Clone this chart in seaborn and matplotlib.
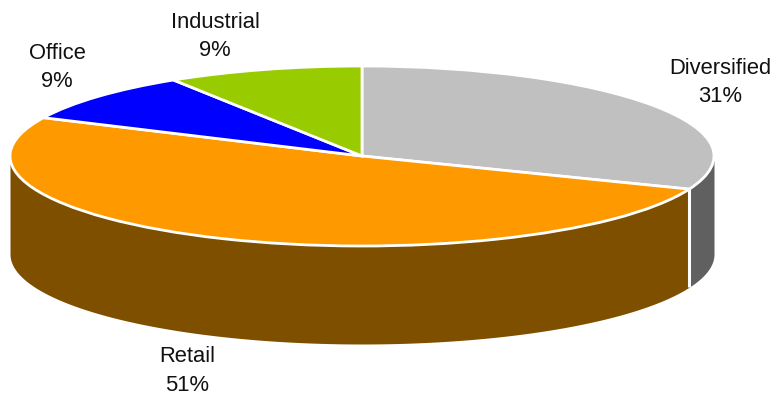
import numpy as np
import matplotlib
matplotlib.use("Agg")
import matplotlib.pyplot as plt
import seaborn as sns

# Portfolio split by property sector, clockwise from twelve o'clock
sectors = ["Diversified", "Retail", "Office", "Industrial"]
shares = [31, 51, 9, 9]
top_colors = ["#C0C0C0", "#FF9900", "#0000FF", "#99CC00"]
wall_colors = ["#606060", "#7F4F00", "#000080", "#4D6600"]

# Label anchors on the pixel-sized canvas
label_x = [720, 187, 57, 215]
label_y = [82.5, 371, 67.5, 36.5]

WIDTH, HEIGHT = 776, 395
CX, CY = 362, 156
RX, RY = 352, 90
DEPTH_PX = 98
SQUASH = RX / RY

sns.set_theme(style="white")
plt.rcParams["font.family"] = ["Liberation Sans", "DejaVu Sans"]

fig = plt.figure(figsize=(WIDTH / 100, HEIGHT / 100), dpi=100)
ax = fig.add_axes([0, 0, 1, 1])

depth = DEPTH_PX * SQUASH

# Side wall of the disc: only the part of each slice facing the viewer
edges = 90 - 3.6 * np.cumsum([0] + shares)
for i, color in enumerate(wall_colors):
    hi, lo = edges[i], edges[i + 1]
    # front half of the rim runs from 0 down to -180 degrees
    hi_c, lo_c = min(hi, 0), max(lo, -180)
    if hi <= -180:
        hi_c, lo_c = min(hi + 360, 0), max(lo + 360, -180)
    if hi_c <= lo_c:
        continue
    t = np.radians(np.linspace(hi_c, lo_c, 200))
    x = RX * np.cos(t)
    y = RX * np.sin(t)
    ax.fill_between(x, y, y - depth, color=color, linewidth=0, zorder=1)
    # white seam where a slice boundary falls on the visible rim
    if -180 < hi < 0:
        ax.plot([x[0], x[0]], [y[0], y[0] - depth], color="white", lw=2.2,
                solid_capstyle="butt", zorder=2)

# Top face: a circular pie stretched into an ellipse by the axis limits
ax.pie(
    shares,
    colors=top_colors,
    startangle=90,
    counterclock=False,
    radius=RX,
    center=(0, 0),
    wedgeprops={"edgecolor": "white", "linewidth": 2.0, "zorder": 3},
)
ax.set_aspect("auto")
ax.set_xlim(-CX, WIDTH - CX)
ax.set_ylim((CY - HEIGHT) * SQUASH, CY * SQUASH)
ax.axis("off")

for name, share, lx, ly in zip(sectors, shares, label_x, label_y):
    ax.text(
        lx - CX,
        (CY - ly) * SQUASH,
        f"{name}\n{share}%",
        ha="center",
        va="center",
        fontsize=15.8,
        color="#111111",
        linespacing=1.46,
        zorder=5,
    )

fig.savefig("out.png", dpi=100, facecolor="white")
